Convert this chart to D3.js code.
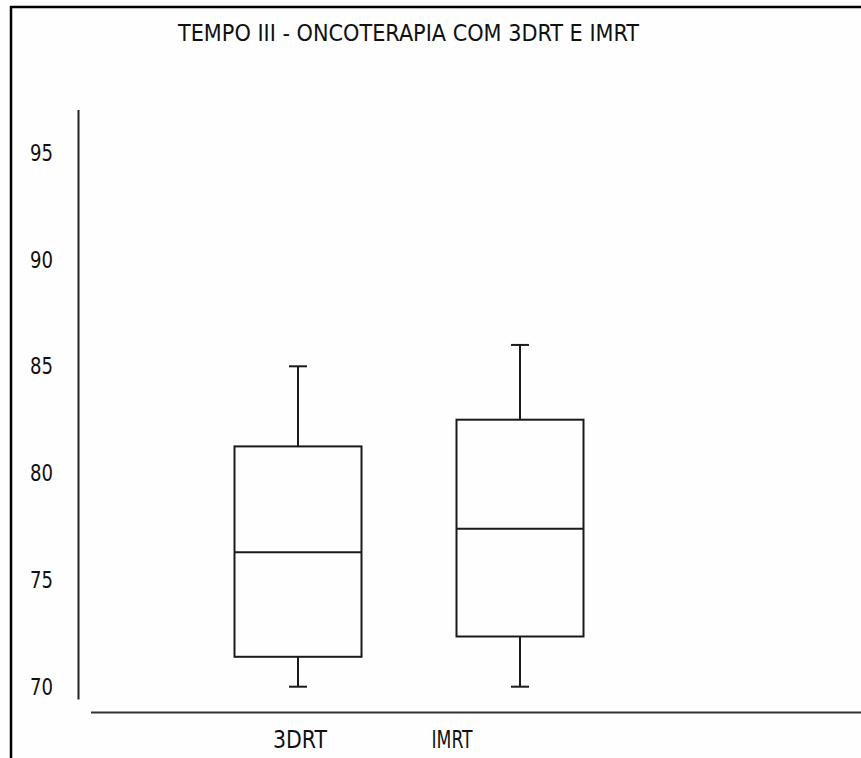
<!DOCTYPE html>
<html>
<head>
<meta charset="utf-8">
<script src="https://cdn.jsdelivr.net/npm/d3@7"></script>
<style>
  html, body { margin: 0; padding: 0; background: #fefefe; }
  svg { display: block; }
  text { font-family: "Liberation Sans Narrow", "Arial Narrow", "DejaVu Sans Condensed", sans-serif; fill: #111; }
</style>
</head>
<body>
<svg id="chart" width="861" height="758"></svg>
<script>
const title = "TEMPO III - ONCOTERAPIA COM 3DRT E IMRT";
const categories = ["3DRT", "IMRT"];
const whiskerLow = [70, 70];
const q1 = [71.4, 72.35];
const median = [76.3, 77.4];
const q3 = [81.25, 82.5];
const whiskerHigh = [85, 86];
const yTicks = [70, 75, 80, 85, 90, 95];

const svg = d3.select("#chart");

// frame (left and top border)
svg.append("line").attr("x1", 11).attr("x2", 11).attr("y1", 6).attr("y2", 758)
  .attr("stroke", "#000").attr("stroke-width", 2.5);
svg.append("line").attr("x1", 10).attr("x2", 861).attr("y1", 7).attr("y2", 7)
  .attr("stroke", "#000").attr("stroke-width", 2.5);

const y = d3.scaleLinear().domain([70, 95]).range([686.7, 152.7]);
const xBox = d3.scalePoint().domain(categories).range([298, 520]);
const xLabel = d3.scalePoint().domain(categories).range([300, 452]);
const boxW = 127;
const capW = 18;

// title
svg.append("text").attr("x", 408.5).attr("y", 40.7)
  .attr("text-anchor", "middle").attr("font-size", 23)
  .attr("textLength", 461).attr("lengthAdjust", "spacingAndGlyphs")
  .text(title);

// y axis line
svg.append("line").attr("x1", 78.5).attr("x2", 78.5)
  .attr("y1", y(97)).attr("y2", y(69.4))
  .attr("stroke", "#222").attr("stroke-width", 2);

// y tick labels
const yAxis = d3.axisLeft(y).tickValues(yTicks).tickSize(0).tickPadding(0).tickFormat(d3.format("d"));
const gy = svg.append("g").attr("transform", "translate(53,0)").call(yAxis);
gy.select(".domain").remove();
gy.selectAll("text").attr("font-size", 23)
  .attr("font-family", "Liberation Sans Narrow, Arial Narrow, DejaVu Sans Condensed, sans-serif")
  .attr("fill", "#111").attr("dy", "0.33em")
  .attr("textLength", 23).attr("lengthAdjust", "spacingAndGlyphs");

// x axis line
svg.append("line").attr("x1", 91).attr("x2", 861).attr("y1", 712.5).attr("y2", 712.5)
  .attr("stroke", "#333").attr("stroke-width", 2);

// x labels
const labelW = {"3DRT": 54, "IMRT": 41};
svg.selectAll(".xlab").data(categories).enter().append("text")
  .attr("class", "xlab")
  .attr("x", d => xLabel(d)).attr("y", 748)
  .attr("text-anchor", "middle").attr("font-size", 24)
  .attr("textLength", d => labelW[d]).attr("lengthAdjust", "spacingAndGlyphs")
  .text(d => d);

// boxes
const data = categories.map((c, i) => ({c, lo: whiskerLow[i], q1: q1[i], med: median[i], q3: q3[i], hi: whiskerHigh[i]}));
const g = svg.selectAll(".box").data(data).enter().append("g").attr("class", "box");
const stroke = "#1a1a1a", sw = 2;

g.append("line").attr("x1", d => xBox(d.c)).attr("x2", d => xBox(d.c))
  .attr("y1", d => y(d.q3)).attr("y2", d => y(d.hi)).attr("stroke", stroke).attr("stroke-width", sw);
g.append("line").attr("x1", d => xBox(d.c)).attr("x2", d => xBox(d.c))
  .attr("y1", d => y(d.q1)).attr("y2", d => y(d.lo)).attr("stroke", stroke).attr("stroke-width", sw);
g.append("line").attr("x1", d => xBox(d.c) - capW / 2).attr("x2", d => xBox(d.c) + capW / 2)
  .attr("y1", d => y(d.hi)).attr("y2", d => y(d.hi)).attr("stroke", stroke).attr("stroke-width", sw);
g.append("line").attr("x1", d => xBox(d.c) - capW / 2).attr("x2", d => xBox(d.c) + capW / 2)
  .attr("y1", d => y(d.lo)).attr("y2", d => y(d.lo)).attr("stroke", stroke).attr("stroke-width", sw);
g.append("rect").attr("x", d => xBox(d.c) - boxW / 2).attr("width", boxW)
  .attr("y", d => y(d.q3)).attr("height", d => y(d.q1) - y(d.q3))
  .attr("fill", "none").attr("stroke", stroke).attr("stroke-width", sw);
g.append("line").attr("x1", d => xBox(d.c) - boxW / 2).attr("x2", d => xBox(d.c) + boxW / 2)
  .attr("y1", d => y(d.med)).attr("y2", d => y(d.med)).attr("stroke", stroke).attr("stroke-width", sw);
</script>
</body>
</html>
